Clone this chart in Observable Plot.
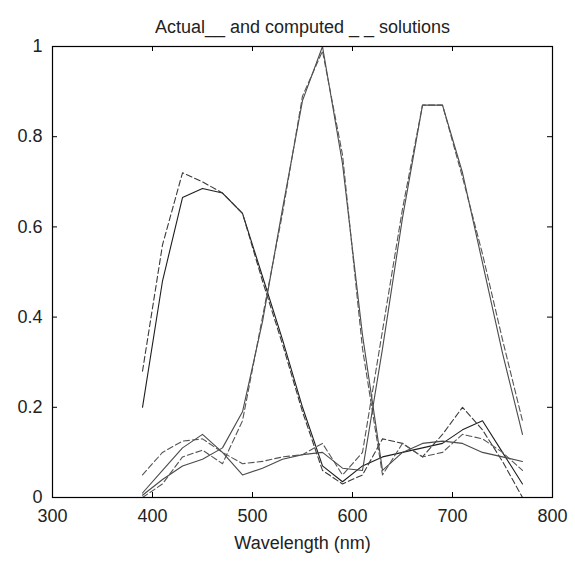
<!DOCTYPE html>
<html><head><meta charset="utf-8">
<script src="https://cdn.jsdelivr.net/npm/d3@7"></script>
<script src="https://cdn.jsdelivr.net/npm/@observablehq/plot@0.6"></script>
<style>body{margin:0;background:#fff}</style>
</head><body><div id="chart"></div>
<script>
const wavelengths = [390,410,430,450,470,490,510,530,550,570,590,610,630,650,670,690,710,730,750,770];
const blueActual    = [0.20,0.48,0.665,0.685,0.675,0.63,0.49,0.35,0.20,0.07,0.035,0.07,0.09,0.10,0.11,0.12,0.15,0.17,0.10,0.03];
const blueComputed  = [0.28,0.56,0.72,0.70,0.675,0.63,0.48,0.34,0.19,0.06,0.03,0.05,0.13,0.12,0.09,0.14,0.20,0.15,0.08,0.00];
const greenActual   = [0.005,0.04,0.07,0.085,0.11,0.19,0.39,0.64,0.88,1.00,0.74,0.36,0.06,0.10,0.12,0.125,0.12,0.10,0.09,0.08];
const greenComputed = [0.00,0.03,0.09,0.105,0.075,0.17,0.40,0.63,0.89,0.99,0.76,0.33,0.05,0.12,0.09,0.10,0.14,0.13,0.10,0.06];
const redActual     = [0.01,0.06,0.11,0.14,0.10,0.05,0.065,0.085,0.095,0.10,0.065,0.06,0.33,0.62,0.87,0.87,0.72,0.52,0.32,0.14];
const redComputed   = [0.05,0.10,0.125,0.13,0.10,0.075,0.08,0.09,0.095,0.12,0.05,0.10,0.37,0.64,0.87,0.87,0.71,0.54,0.35,0.17];
const xTicks = [300,400,500,600,700,800];
const yTicks = [0,0.2,0.4,0.6,0.8,1];
const titleText = "Actual__ and computed _ _ solutions";
const xLabel = "Wavelength (nm)";

const series = [
  {values: blueActual, dash: null, color: "#1e1e1e"},
  {values: blueComputed, dash: "6,3", color: "#3a3a3a"},
  {values: greenActual, dash: null, color: "#4a4a4a"},
  {values: greenComputed, dash: "6,3", color: "#555"},
  {values: redActual, dash: null, color: "#4a4a4a"},
  {values: redComputed, dash: "6,3", color: "#555"}
];

const lineMarks = series.map(s => Plot.line(
  wavelengths.map((w, i) => ({w, v: s.values[i]})),
  {x: "w", y: "v", stroke: s.color, strokeWidth: 1.1, strokeDasharray: s.dash}
));

const chart = Plot.plot({
  width: 575, height: 563,
  marginTop: 46, marginLeft: 52, marginRight: 23, marginBottom: 66,
  style: {fontFamily: "'Liberation Sans', Arial, sans-serif", fontSize: "18px", background: "white", color: "#222"},
  x: {domain: [300, 800]},
  y: {domain: [0, 1]},
  marks: [
    Plot.axisX(xTicks, {anchor: "bottom", tickSize: 0, tickPadding: 12, label: null, tickFormat: d => String(d)}),
    Plot.axisY(yTicks, {anchor: "left", tickSize: 0, tickPadding: 10, label: null, tickFormat: d => String(d)}),
    ...lineMarks,
    Plot.tickX(xTicks, {x: d => d, insetTop: 446, stroke: "black"}),
    Plot.tickX(xTicks, {x: d => d, insetBottom: 446, stroke: "black"}),
    Plot.tickY(yTicks, {y: d => d, insetRight: 495, stroke: "black"}),
    Plot.tickY(yTicks, {y: d => d, insetLeft: 495, stroke: "black"}),
    Plot.frame({stroke: "black", strokeWidth: 1.2}),
    Plot.text([titleText], {text: d => d, frameAnchor: "top", dy: -26, fontSize: 18}),
    Plot.text([xLabel], {text: d => d, frameAnchor: "bottom", dy: 51, fontSize: 18})
  ]
});
document.getElementById("chart").appendChild(chart);
</script>
</body></html>
